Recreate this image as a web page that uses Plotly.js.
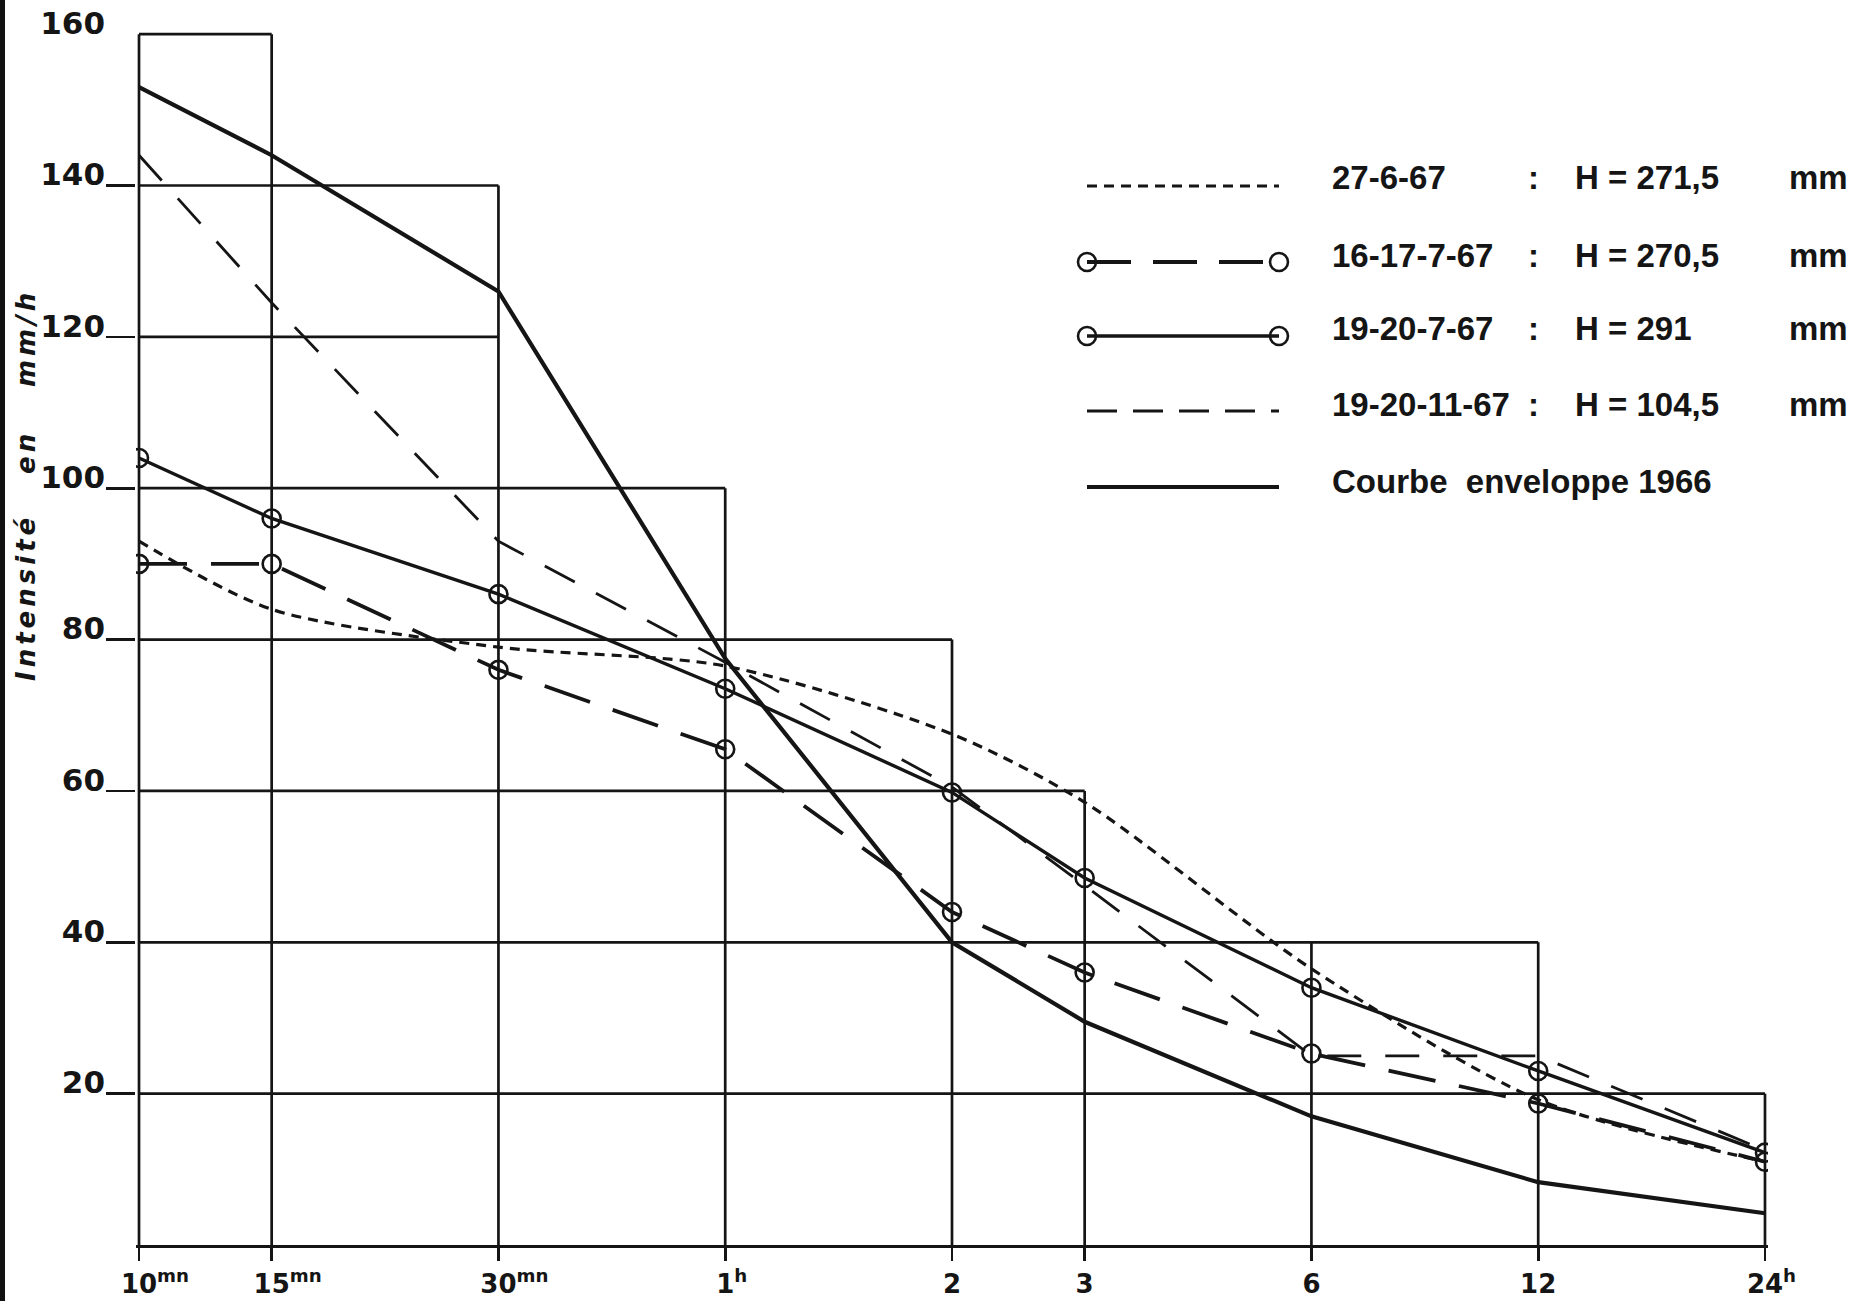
<!DOCTYPE html>
<html><head><meta charset="utf-8">
<script src="https://cdn.plot.ly/plotly-3.0.1.min.js"></script>
<style>html,body{margin:0;padding:0;background:#fff}#chart{width:1862px;height:1301px}</style>
</head><body>
<div id="chart"></div>
<div style="position:absolute;left:0;top:0;width:5px;height:1301px;background:#111"></div>
<script>
// ---- data ----
const durations = [10, 15, 30, 60, 120, 180, 360, 720, 1440]; // minutes
const tickText = ['10<sup>mn</sup>', '15<sup>mn</sup>', '30<sup>mn</sup>', '1<sup>h</sup>', '2', '3', '6', '12', '24<sup>h</sup>'];
const tickPad = ['mn', 'mn', 'mn', 'h', '', '', '', '', 'h'];
const s27_6_67 = [93, 84, 79, 76.5, 67.5, 58.5, 36.5, 19.2, 11];
const s16_17_7_67 = [90, 90, 76, 65.5, 44, 36, 25.3, 18.7, 11];
const s19_20_7_67 = [104, 96, 86, 73.5, 59.8, 48.5, 34, 23, 12.2];
const s19_20_11_67 = [144, 124.5, 93, 77, 60.5, 47.5, 25, 25, 12.5];
const enveloppe1966 = [153, 144, 126, 77.5, 40, 29.5, 17, 8.3, 4.2];
const gridTops = [160, 160, 140, 100, 80, 60, 40, 40, 20];
const levels = [20, 40, 60, 80, 100, 120, 140, 160];
const levelEnds = [1440, 720, 180, 120, 60, 30, 30, 15];
const yTicks = [20, 40, 60, 80, 100, 120, 140, 160];
const legendDates = ['27-6-67', '16-17-7-67', '19-20-7-67', '19-20-11-67', 'Courbe&nbsp; enveloppe 1966'];
const legendH = ['271,5', '270,5', '291', '104,5', null];
const yTitleWords = ['Intensité', 'en', 'mm/h'];

// ---- layout geometry ----
const INK = '#151515';
const W = 1862, H = 1301;
const ML = 136, MR = 94, MT = 19, MB = 56;
const PW = W - ML - MR, PH = H - MT - MB;
const eps = 0.004;
const px = x => (x - ML) / PW;
const py = y => (H - MB - y) / PH;
const FONT = '"DejaVu Sans", sans-serif';
const LFONT = '"Liberation Sans", Arial, sans-serif';

// staircase grid
const gx = [], gy = [];
durations.forEach((d, i) => { gx.push(d, d, null); gy.push(0, gridTops[i], null); });
levels.forEach((l, i) => { gx.push(durations[0], levelEnds[i], null); gy.push(l, l, null); });

const circ = {symbol: 'circle-open', size: 18, color: INK, line: {width: 2.6, color: INK}};
const traces = [
  {x: gx, y: gy, mode: 'lines', line: {color: INK, width: 2.7}, hoverinfo: 'skip'},
  {x: durations, y: enveloppe1966, mode: 'lines', name: 'Courbe enveloppe 1966',
   line: {color: INK, width: 4.2}},
  {x: durations, y: s19_20_11_67, mode: 'lines', name: '19-20-11-67',
   line: {color: INK, width: 2.8, dash: '34px,24px'}},
  {x: durations, y: s27_6_67, mode: 'lines', name: '27-6-67',
   line: {color: INK, width: 3.2, dash: '10px,7px', shape: 'spline', smoothing: 0.8}},
  {x: durations, y: s16_17_7_67, mode: 'lines+markers', name: '16-17-7-67',
   line: {color: INK, width: 3.8, dash: '48px,24px'}, marker: circ},
  {x: durations, y: s19_20_7_67, mode: 'lines+markers', name: '19-20-7-67',
   line: {color: INK, width: 3.4}, marker: circ}
];

// legend samples (overlay axes in plot pixels)
const legRowsText = [177, 255, 328, 404, 481];
const legRowsLine = [186, 262, 336, 411, 487];
const lx0 = 1083, lx1 = 1283;
const legStyles = [
  {line: {color: INK, width: 3.2, dash: '10px,7px'}, mode: 'lines'},
  {line: {color: INK, width: 3.8, dash: '44px,22px'}, mode: 'lines+markers'},
  {line: {color: INK, width: 3.4}, mode: 'lines+markers'},
  {line: {color: INK, width: 3, dash: '30px,16px'}, mode: 'lines'},
  {line: {color: INK, width: 4.2}, mode: 'lines'}
];
legStyles.forEach((st, i) => {
  traces.push({x: [lx0 + 4 - ML, lx1 - 4 - ML], y: [legRowsLine[i] - MT, legRowsLine[i] - MT],
    xaxis: 'x2', yaxis: 'y2', mode: st.mode, line: st.line, hoverinfo: 'skip', marker: circ});
});

const ann = [];
const legFont = {family: LFONT, size: 33, color: INK, weight: 'bold'};
legendDates.forEach((d, i) => {
  ann.push({xref: 'paper', yref: 'paper', x: px(1330), y: py(legRowsText[i]), xanchor: 'left', yanchor: 'middle',
    text: d, showarrow: false, font: legFont});
  if (legendH[i] !== null) {
    ann.push({xref: 'paper', yref: 'paper', x: px(1533), y: py(legRowsText[i]), xanchor: 'center', yanchor: 'middle',
      text: ':', showarrow: false, font: legFont});
    ann.push({xref: 'paper', yref: 'paper', x: px(1573), y: py(legRowsText[i]), xanchor: 'left', yanchor: 'middle',
      text: 'H = ' + legendH[i], showarrow: false, font: legFont});
    ann.push({xref: 'paper', yref: 'paper', x: px(1787), y: py(legRowsText[i]), xanchor: 'left', yanchor: 'middle',
      text: 'mm', showarrow: false, font: legFont});
  }
});
const yTitleY = [598, 452, 338];
yTitleWords.forEach((w, i) => {
  ann.push({xref: 'paper', yref: 'paper', x: px(26), y: py(yTitleY[i]), xanchor: 'center', yanchor: 'middle',
    text: '<span style="letter-spacing:4px"><i>' + w + '</i></span>', textangle: -90, showarrow: false,
    font: {family: FONT, size: 26, color: INK, weight: 'bold'}});
});

const xTickText = tickText.map((t, i) => tickPad[i] ?
  '<span style="font-size:70%;fill-opacity:0">' + tickPad[i] + '</span>' + t : t);

const layout = {
  width: W, height: H,
  margin: {l: ML, r: MR, t: MT, b: MB},
  paper_bgcolor: 'white', plot_bgcolor: 'white',
  showlegend: false,
  font: {family: FONT, color: INK},
  xaxis: {type: 'log', range: [Math.log10(durations[0]) - eps, Math.log10(durations[durations.length - 1]) + eps],
    tickmode: 'array', tickvals: durations, ticktext: xTickText,
    ticks: 'outside', ticklen: 13, tickwidth: 2.6, tickcolor: INK,
    showline: true, linewidth: 2.8, linecolor: INK, showgrid: false, zeroline: false,
    tickfont: {family: FONT, size: 26, color: INK, weight: 'bold'}, ticklabelstandoff: 1},
  yaxis: {range: [0, 162], tickmode: 'array', tickvals: yTicks, ticktext: yTicks.map(String),
    ticks: '', showgrid: false, zeroline: false, showline: false,
    tickfont: {family: FONT, size: 31, color: INK, weight: 'bold'}, ticklabelstandoff: 30, ticklabelshift: -11,
    minor: {tickmode: 'array', tickvals: yTicks.slice(0, 7), ticks: 'outside', ticklen: 29,
      tickwidth: 2.7, tickcolor: INK, showgrid: false}},
  xaxis2: {overlaying: 'x', range: [0, PW], visible: false},
  yaxis2: {overlaying: 'y', range: [PH, 0], visible: false},
  annotations: ann
};

Plotly.newPlot('chart', traces, layout, {staticPlot: true});
</script>
</body></html>
